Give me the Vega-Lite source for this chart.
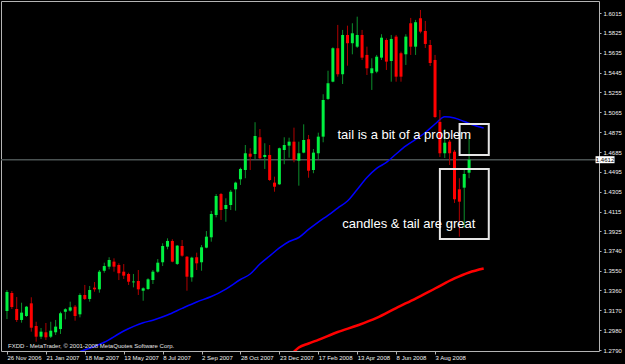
{
  "$schema": "https://vega.github.io/schema/vega-lite/v6.json",
  "width": 598,
  "height": 350,
  "autosize": {"type": "none"},
  "padding": {"left": 1, "top": 1, "right": 26, "bottom": 13},
  "background": "#000000",
  "config": {
    "view": {"stroke": "#b4b4b4", "strokeWidth": 1, "fill": null},
    "text": {"font": "Liberation Sans"},
    "axis": {"labelFont": "Liberation Sans", "labelFontSize": 6, "labelColor": "#f0f0f0", "tickColor": "#b4b4b4", "grid": false, "domain": false, "title": null, "labelOverlap": false, "labelFlush": false}
  },
  "datasets": {
    "candles": [
      {"d":"2006-11-26","o":1.3164,"h":1.3365,"l":1.3087,"c":1.3346},
      {"d":"2006-12-03","o":1.3336,"h":1.3355,"l":1.3183,"c":1.3202},
      {"d":"2006-12-10","o":1.3183,"h":1.3298,"l":1.3059,"c":1.3078},
      {"d":"2006-12-17","o":1.3078,"h":1.3243,"l":1.3052,"c":1.3148},
      {"d":"2006-12-24","o":1.3116,"h":1.3212,"l":1.3107,"c":1.3205},
      {"d":"2006-12-31","o":1.3237,"h":1.3295,"l":1.2966,"c":1.3004},
      {"d":"2007-01-07","o":1.3020,"h":1.3061,"l":1.2870,"c":1.2918},
      {"d":"2007-01-14","o":1.2918,"h":1.3001,"l":1.2896,"c":1.2966},
      {"d":"2007-01-21","o":1.2960,"h":1.3049,"l":1.2886,"c":1.2912},
      {"d":"2007-01-28","o":1.2918,"h":1.3061,"l":1.2905,"c":1.2975},
      {"d":"2007-02-04","o":1.2960,"h":1.3078,"l":1.2934,"c":1.3014},
      {"d":"2007-02-11","o":1.2991,"h":1.3157,"l":1.2944,"c":1.3142},
      {"d":"2007-02-18","o":1.3157,"h":1.3190,"l":1.3084,"c":1.3180},
      {"d":"2007-02-25","o":1.3167,"h":1.3253,"l":1.3157,"c":1.3199},
      {"d":"2007-03-04","o":1.3205,"h":1.3221,"l":1.3071,"c":1.3116},
      {"d":"2007-03-11","o":1.3132,"h":1.3333,"l":1.3103,"c":1.3317},
      {"d":"2007-03-18","o":1.3317,"h":1.3413,"l":1.3269,"c":1.3279},
      {"d":"2007-03-25","o":1.3279,"h":1.3403,"l":1.3253,"c":1.3365},
      {"d":"2007-04-01","o":1.3387,"h":1.3441,"l":1.3348,"c":1.3371},
      {"d":"2007-04-08","o":1.3371,"h":1.3556,"l":1.3339,"c":1.3540},
      {"d":"2007-04-15","o":1.3549,"h":1.3626,"l":1.3530,"c":1.3594},
      {"d":"2007-04-22","o":1.3588,"h":1.3678,"l":1.3563,"c":1.3652},
      {"d":"2007-04-29","o":1.3636,"h":1.3668,"l":1.3540,"c":1.3588},
      {"d":"2007-05-06","o":1.3604,"h":1.3620,"l":1.3460,"c":1.3525},
      {"d":"2007-05-13","o":1.3540,"h":1.3613,"l":1.3470,"c":1.3502},
      {"d":"2007-05-20","o":1.3518,"h":1.3530,"l":1.3413,"c":1.3444},
      {"d":"2007-05-27","o":1.3438,"h":1.3518,"l":1.3390,"c":1.3446},
      {"d":"2007-06-03","o":1.3451,"h":1.3556,"l":1.3317,"c":1.3371},
      {"d":"2007-06-10","o":1.3358,"h":1.3390,"l":1.3262,"c":1.3381},
      {"d":"2007-06-17","o":1.3374,"h":1.3477,"l":1.3365,"c":1.3467},
      {"d":"2007-06-24","o":1.3460,"h":1.3556,"l":1.3422,"c":1.3540},
      {"d":"2007-07-01","o":1.3540,"h":1.3661,"l":1.3530,"c":1.3626},
      {"d":"2007-07-08","o":1.3630,"h":1.3812,"l":1.3594,"c":1.3786},
      {"d":"2007-07-15","o":1.3779,"h":1.3859,"l":1.3754,"c":1.3834},
      {"d":"2007-07-22","o":1.3834,"h":1.3850,"l":1.3630,"c":1.3636},
      {"d":"2007-07-29","o":1.3614,"h":1.3795,"l":1.3604,"c":1.3789},
      {"d":"2007-08-05","o":1.3786,"h":1.3843,"l":1.3683,"c":1.3693},
      {"d":"2007-08-12","o":1.3683,"h":1.3690,"l":1.3358,"c":1.3492},
      {"d":"2007-08-19","o":1.3486,"h":1.3683,"l":1.3444,"c":1.3674},
      {"d":"2007-08-26","o":1.3678,"h":1.3722,"l":1.3556,"c":1.3620},
      {"d":"2007-09-02","o":1.3630,"h":1.3795,"l":1.3549,"c":1.3773},
      {"d":"2007-09-09","o":1.3770,"h":1.3929,"l":1.3764,"c":1.3875},
      {"d":"2007-09-16","o":1.3869,"h":1.4121,"l":1.3827,"c":1.4092},
      {"d":"2007-09-23","o":1.4082,"h":1.4283,"l":1.4060,"c":1.4264},
      {"d":"2007-09-30","o":1.4283,"h":1.4293,"l":1.4035,"c":1.4130},
      {"d":"2007-10-07","o":1.4140,"h":1.4242,"l":1.4018,"c":1.4178},
      {"d":"2007-10-14","o":1.4178,"h":1.4322,"l":1.4130,"c":1.4305},
      {"d":"2007-10-21","o":1.4328,"h":1.4401,"l":1.4124,"c":1.4392},
      {"d":"2007-10-28","o":1.4424,"h":1.4535,"l":1.4370,"c":1.4523},
      {"d":"2007-11-04","o":1.4513,"h":1.4752,"l":1.4434,"c":1.4673},
      {"d":"2007-11-11","o":1.4669,"h":1.4721,"l":1.4513,"c":1.4640},
      {"d":"2007-11-18","o":1.4666,"h":1.4970,"l":1.4618,"c":1.4838},
      {"d":"2007-11-25","o":1.4826,"h":1.4905,"l":1.4618,"c":1.4625},
      {"d":"2007-12-02","o":1.4637,"h":1.4769,"l":1.4523,"c":1.4657},
      {"d":"2007-12-09","o":1.4657,"h":1.4752,"l":1.4408,"c":1.4417},
      {"d":"2007-12-16","o":1.4392,"h":1.4449,"l":1.4305,"c":1.4353},
      {"d":"2007-12-23","o":1.4376,"h":1.4727,"l":1.4370,"c":1.4721},
      {"d":"2007-12-30","o":1.4704,"h":1.4826,"l":1.4568,"c":1.4752},
      {"d":"2008-01-06","o":1.4746,"h":1.4822,"l":1.4631,"c":1.4784},
      {"d":"2008-01-13","o":1.4784,"h":1.4918,"l":1.4587,"c":1.4609},
      {"d":"2008-01-20","o":1.4602,"h":1.4784,"l":1.4363,"c":1.4673},
      {"d":"2008-01-27","o":1.4679,"h":1.4950,"l":1.4673,"c":1.4800},
      {"d":"2008-02-03","o":1.4807,"h":1.4848,"l":1.4439,"c":1.4506},
      {"d":"2008-02-10","o":1.4513,"h":1.4714,"l":1.4482,"c":1.4679},
      {"d":"2008-02-17","o":1.4673,"h":1.4870,"l":1.4618,"c":1.4832},
      {"d":"2008-02-24","o":1.4832,"h":1.5238,"l":1.4778,"c":1.5183},
      {"d":"2008-03-02","o":1.5193,"h":1.5463,"l":1.5183,"c":1.5343},
      {"d":"2008-03-09","o":1.5358,"h":1.5687,"l":1.5352,"c":1.5678},
      {"d":"2008-03-16","o":1.5678,"h":1.5901,"l":1.5406,"c":1.5429},
      {"d":"2008-03-23","o":1.5429,"h":1.5853,"l":1.5336,"c":1.5805},
      {"d":"2008-03-30","o":1.5805,"h":1.5894,"l":1.5511,"c":1.5726},
      {"d":"2008-04-06","o":1.5726,"h":1.5917,"l":1.5620,"c":1.5821},
      {"d":"2008-04-13","o":1.5693,"h":1.5980,"l":1.5681,"c":1.5805},
      {"d":"2008-04-20","o":1.5805,"h":1.5853,"l":1.5566,"c":1.5588},
      {"d":"2008-04-27","o":1.5614,"h":1.5693,"l":1.5422,"c":1.5486},
      {"d":"2008-05-04","o":1.5439,"h":1.5582,"l":1.5279,"c":1.5486},
      {"d":"2008-05-11","o":1.5454,"h":1.5614,"l":1.5439,"c":1.5597},
      {"d":"2008-05-18","o":1.5588,"h":1.5812,"l":1.5566,"c":1.5779},
      {"d":"2008-05-25","o":1.5757,"h":1.5773,"l":1.5470,"c":1.5550},
      {"d":"2008-06-01","o":1.5556,"h":1.5805,"l":1.5358,"c":1.5767},
      {"d":"2008-06-08","o":1.5789,"h":1.5805,"l":1.5358,"c":1.5406},
      {"d":"2008-06-15","o":1.5630,"h":1.5645,"l":1.5358,"c":1.5406},
      {"d":"2008-06-22","o":1.5620,"h":1.5812,"l":1.5518,"c":1.5789},
      {"d":"2008-06-29","o":1.5917,"h":1.5968,"l":1.5614,"c":1.5693},
      {"d":"2008-07-06","o":1.5693,"h":1.5949,"l":1.5614,"c":1.5927},
      {"d":"2008-07-13","o":1.5965,"h":1.6044,"l":1.5821,"c":1.5837},
      {"d":"2008-07-20","o":1.5843,"h":1.5939,"l":1.5681,"c":1.5719},
      {"d":"2008-07-27","o":1.5709,"h":1.5757,"l":1.5508,"c":1.5537},
      {"d":"2008-08-03","o":1.5566,"h":1.5614,"l":1.5011,"c":1.5020},
      {"d":"2008-08-10","o":1.4973,"h":1.5087,"l":1.4637,"c":1.4673},
      {"d":"2008-08-17","o":1.4673,"h":1.4905,"l":1.4628,"c":1.4774},
      {"d":"2008-08-24","o":1.4784,"h":1.4800,"l":1.4561,"c":1.4673},
      {"d":"2008-08-31","o":1.4688,"h":1.4705,"l":1.4197,"c":1.4233},
      {"d":"2008-09-07","o":1.4328,"h":1.4434,"l":1.3875,"c":1.4210},
      {"d":"2008-09-14","o":1.4344,"h":1.4532,"l":1.3963,"c":1.4475},
      {"d":"2008-09-21","o":1.4487,"h":1.4848,"l":1.4434,"c":1.4612}
    ],
    "blue": [
      {"d":"2007-03-11","p":1.2776},
      {"d":"2007-04-15","p":1.2865},
      {"d":"2007-05-13","p":1.2972},
      {"d":"2007-06-10","p":1.3051},
      {"d":"2007-06-24","p":1.3076},
      {"d":"2007-07-15","p":1.3125},
      {"d":"2007-08-05","p":1.3189},
      {"d":"2007-08-26","p":1.3250},
      {"d":"2007-09-16","p":1.3302},
      {"d":"2007-10-07","p":1.3374},
      {"d":"2007-10-28","p":1.3465},
      {"d":"2007-11-11","p":1.3518},
      {"d":"2007-11-25","p":1.3613},
      {"d":"2007-12-09","p":1.3690},
      {"d":"2007-12-23","p":1.3767},
      {"d":"2008-01-06","p":1.3829},
      {"d":"2008-01-20","p":1.3867},
      {"d":"2008-02-03","p":1.3944},
      {"d":"2008-02-17","p":1.4015},
      {"d":"2008-03-02","p":1.4078},
      {"d":"2008-03-16","p":1.4149},
      {"d":"2008-03-30","p":1.4216},
      {"d":"2008-04-13","p":1.4327},
      {"d":"2008-04-27","p":1.4441},
      {"d":"2008-05-11","p":1.4529},
      {"d":"2008-05-25","p":1.4585},
      {"d":"2008-06-08","p":1.4666},
      {"d":"2008-06-22","p":1.4743},
      {"d":"2008-07-06","p":1.4805},
      {"d":"2008-07-20","p":1.4872},
      {"d":"2008-08-03","p":1.4953},
      {"d":"2008-08-17","p":1.5023},
      {"d":"2008-08-31","p":1.5011},
      {"d":"2008-09-14","p":1.4977},
      {"d":"2008-09-28","p":1.4941},
      {"d":"2008-10-12","p":1.4915}
    ],
    "red": [
      {"d":"2008-01-13","p":1.2775},
      {"d":"2008-01-20","p":1.2814},
      {"d":"2008-02-03","p":1.2853},
      {"d":"2008-02-17","p":1.2888},
      {"d":"2008-03-16","p":1.2963},
      {"d":"2008-04-13","p":1.3025},
      {"d":"2008-05-11","p":1.3097},
      {"d":"2008-06-08","p":1.3192},
      {"d":"2008-07-06","p":1.3283},
      {"d":"2008-08-03","p":1.3379},
      {"d":"2008-08-31","p":1.3475},
      {"d":"2008-09-21","p":1.3532},
      {"d":"2008-10-12","p":1.3570}
    ],
    "boxes": [
      {"from":"2008-09-07T08:00:00Z","to":"2008-10-19T08:00:00Z","low":1.4657,"high":1.4953},
      {"from":"2008-08-10T00:00:00Z","to":"2008-10-19T08:00:00Z","low":1.3853,"high":1.4523}
    ],
    "notes": [
      {"d":"2008-03-15T12:00:00Z","p":1.4810,"text":"tail is a bit of a problem"},
      {"d":"2008-03-22T14:00:00Z","p":1.3958,"text":"candles & tail are great"}
    ],
    "credit": [
      {"d":"2006-11-27T10:00:00Z","p":1.2810,"text":"FXDD - MetaTrader, © 2001-2008 MetaQuotes Software Corp."}
    ],
    "last": [{"p":1.4612}]
  },
  "layer": [
    {
      "data": {"name": "last"},
      "mark": {"type": "rule", "color": "#4a5252", "strokeWidth": 1.5},
      "encoding": {
        "y": {"field": "p", "type": "quantitative", "title": null, "scale": {"domain": [1.2781, 1.6130], "nice": false, "zero": false},
          "axis": {"orient": "right", "values": [1.2790, 1.2980, 1.3170, 1.3360, 1.3550, 1.3740, 1.3925, 1.4115, 1.4305, 1.4495, 1.4685, 1.4875, 1.5065, 1.5255, 1.5445, 1.5635, 1.5825, 1.6015], "format": ".4f", "labelPadding": 2, "tickSize": 2, "labelAlign": "left", "labelBaseline": "middle"}}
      }
    },
    {
      "data": {"name": "red"},
      "mark": {"type": "line", "color": "#ff0000", "strokeWidth": 2.5, "interpolate": "monotone", "clip": true},
      "encoding": {
        "x": {"field": "d", "type": "temporal", "title": null, "scale": {"type": "utc", "domain": [1164377030400, 1237486464000], "nice": false},
          "axis": {"orient": "bottom", "values": [1164499200000, 1169337600000, 1174176000000, 1179014400000, 1183852800000, 1188691200000, 1193529600000, 1198368000000, 1203206400000, 1208044800000, 1212883200000, 1217721600000], "labelExpr": "utcFormat(datum.value, '%-d %b %Y')", "labelAlign": "left", "labelBaseline": "top", "labelPadding": 0, "tickSize": 3}},
        "y": {"field": "p", "type": "quantitative", "title": null, "scale": {"domain": [1.2781, 1.6130], "nice": false, "zero": false},
          "axis": {"orient": "right", "values": [1.2790, 1.2980, 1.3170, 1.3360, 1.3550, 1.3740, 1.3925, 1.4115, 1.4305, 1.4495, 1.4685, 1.4875, 1.5065, 1.5255, 1.5445, 1.5635, 1.5825, 1.6015], "format": ".4f", "labelPadding": 2, "tickSize": 2, "labelAlign": "left", "labelBaseline": "middle"}}
      }
    },
    {
      "data": {"name": "blue"},
      "mark": {"type": "line", "color": "#0000ff", "strokeWidth": 1.5, "interpolate": "monotone", "clip": true},
      "encoding": {
        "x": {"field": "d", "type": "temporal", "title": null, "scale": {"type": "utc", "domain": [1164377030400, 1237486464000], "nice": false},
          "axis": {"orient": "bottom", "values": [1164499200000, 1169337600000, 1174176000000, 1179014400000, 1183852800000, 1188691200000, 1193529600000, 1198368000000, 1203206400000, 1208044800000, 1212883200000, 1217721600000], "labelExpr": "utcFormat(datum.value, '%-d %b %Y')", "labelAlign": "left", "labelBaseline": "top", "labelPadding": 0, "tickSize": 3}},
        "y": {"field": "p", "type": "quantitative", "title": null, "scale": {"domain": [1.2781, 1.6130], "nice": false, "zero": false},
          "axis": {"orient": "right", "values": [1.2790, 1.2980, 1.3170, 1.3360, 1.3550, 1.3740, 1.3925, 1.4115, 1.4305, 1.4495, 1.4685, 1.4875, 1.5065, 1.5255, 1.5445, 1.5635, 1.5825, 1.6015], "format": ".4f", "labelPadding": 2, "tickSize": 2, "labelAlign": "left", "labelBaseline": "middle"}}
      }
    },
    {
      "data": {"name": "candles"},
      "mark": {"type": "rule", "strokeWidth": 1},
      "encoding": {
        "x": {"field": "d", "type": "temporal", "title": null, "scale": {"type": "utc", "domain": [1164377030400, 1237486464000], "nice": false},
          "axis": {"orient": "bottom", "values": [1164499200000, 1169337600000, 1174176000000, 1179014400000, 1183852800000, 1188691200000, 1193529600000, 1198368000000, 1203206400000, 1208044800000, 1212883200000, 1217721600000], "labelExpr": "utcFormat(datum.value, '%-d %b %Y')", "labelAlign": "left", "labelBaseline": "top", "labelPadding": 0, "tickSize": 3}},
        "y": {"field": "l", "type": "quantitative", "title": null, "scale": {"domain": [1.2781, 1.6130], "nice": false, "zero": false},
          "axis": {"orient": "right", "values": [1.2790, 1.2980, 1.3170, 1.3360, 1.3550, 1.3740, 1.3925, 1.4115, 1.4305, 1.4495, 1.4685, 1.4875, 1.5065, 1.5255, 1.5445, 1.5635, 1.5825, 1.6015], "format": ".4f", "labelPadding": 2, "tickSize": 2, "labelAlign": "left", "labelBaseline": "middle"}},
        "y2": {"field": "h"},
        "color": {"condition": {"test": "datum.c >= datum.o", "value": "#0c8f2c"}, "value": "#b00000"}
      }
    },
    {
      "data": {"name": "candles"},
      "mark": {"type": "bar", "size": 3},
      "encoding": {
        "x": {"field": "d", "type": "temporal", "title": null, "scale": {"type": "utc", "domain": [1164377030400, 1237486464000], "nice": false},
          "axis": {"orient": "bottom", "values": [1164499200000, 1169337600000, 1174176000000, 1179014400000, 1183852800000, 1188691200000, 1193529600000, 1198368000000, 1203206400000, 1208044800000, 1212883200000, 1217721600000], "labelExpr": "utcFormat(datum.value, '%-d %b %Y')", "labelAlign": "left", "labelBaseline": "top", "labelPadding": 0, "tickSize": 3}},
        "y": {"field": "o", "type": "quantitative", "title": null, "scale": {"domain": [1.2781, 1.6130], "nice": false, "zero": false},
          "axis": {"orient": "right", "values": [1.2790, 1.2980, 1.3170, 1.3360, 1.3550, 1.3740, 1.3925, 1.4115, 1.4305, 1.4495, 1.4685, 1.4875, 1.5065, 1.5255, 1.5445, 1.5635, 1.5825, 1.6015], "format": ".4f", "labelPadding": 2, "tickSize": 2, "labelAlign": "left", "labelBaseline": "middle"}},
        "y2": {"field": "c"},
        "color": {"condition": {"test": "datum.c >= datum.o", "value": "#00f040"}, "value": "#ff0000"}
      }
    },
    {
      "data": {"name": "boxes"},
      "mark": {"type": "rect", "fillOpacity": 0, "stroke": "#e6e6e6", "strokeWidth": 2},
      "encoding": {
        "x": {"field": "from", "type": "temporal", "title": null, "scale": {"type": "utc", "domain": [1164377030400, 1237486464000], "nice": false},
          "axis": {"orient": "bottom", "values": [1164499200000, 1169337600000, 1174176000000, 1179014400000, 1183852800000, 1188691200000, 1193529600000, 1198368000000, 1203206400000, 1208044800000, 1212883200000, 1217721600000], "labelExpr": "utcFormat(datum.value, '%-d %b %Y')", "labelAlign": "left", "labelBaseline": "top", "labelPadding": 0, "tickSize": 3}},
        "x2": {"field": "to"},
        "y": {"field": "low", "type": "quantitative", "title": null, "scale": {"domain": [1.2781, 1.6130], "nice": false, "zero": false},
          "axis": {"orient": "right", "values": [1.2790, 1.2980, 1.3170, 1.3360, 1.3550, 1.3740, 1.3925, 1.4115, 1.4305, 1.4495, 1.4685, 1.4875, 1.5065, 1.5255, 1.5445, 1.5635, 1.5825, 1.6015], "format": ".4f", "labelPadding": 2, "tickSize": 2, "labelAlign": "left", "labelBaseline": "middle"}},
        "y2": {"field": "high"}
      }
    },
    {
      "data": {"name": "notes"},
      "mark": {"type": "text", "align": "left", "baseline": "alphabetic", "fontSize": 13, "color": "#ffffff"},
      "encoding": {
        "x": {"field": "d", "type": "temporal", "title": null, "scale": {"type": "utc", "domain": [1164377030400, 1237486464000], "nice": false},
          "axis": {"orient": "bottom", "values": [1164499200000, 1169337600000, 1174176000000, 1179014400000, 1183852800000, 1188691200000, 1193529600000, 1198368000000, 1203206400000, 1208044800000, 1212883200000, 1217721600000], "labelExpr": "utcFormat(datum.value, '%-d %b %Y')", "labelAlign": "left", "labelBaseline": "top", "labelPadding": 0, "tickSize": 3}},
        "y": {"field": "p", "type": "quantitative", "title": null, "scale": {"domain": [1.2781, 1.6130], "nice": false, "zero": false},
          "axis": {"orient": "right", "values": [1.2790, 1.2980, 1.3170, 1.3360, 1.3550, 1.3740, 1.3925, 1.4115, 1.4305, 1.4495, 1.4685, 1.4875, 1.5065, 1.5255, 1.5445, 1.5635, 1.5825, 1.6015], "format": ".4f", "labelPadding": 2, "tickSize": 2, "labelAlign": "left", "labelBaseline": "middle"}},
        "text": {"field": "text"}
      }
    },
    {
      "data": {"name": "credit"},
      "mark": {"type": "text", "align": "left", "baseline": "alphabetic", "fontSize": 6, "color": "#e6e6e6"},
      "encoding": {
        "x": {"field": "d", "type": "temporal", "title": null, "scale": {"type": "utc", "domain": [1164377030400, 1237486464000], "nice": false},
          "axis": {"orient": "bottom", "values": [1164499200000, 1169337600000, 1174176000000, 1179014400000, 1183852800000, 1188691200000, 1193529600000, 1198368000000, 1203206400000, 1208044800000, 1212883200000, 1217721600000], "labelExpr": "utcFormat(datum.value, '%-d %b %Y')", "labelAlign": "left", "labelBaseline": "top", "labelPadding": 0, "tickSize": 3}},
        "y": {"field": "p", "type": "quantitative", "title": null, "scale": {"domain": [1.2781, 1.6130], "nice": false, "zero": false},
          "axis": {"orient": "right", "values": [1.2790, 1.2980, 1.3170, 1.3360, 1.3550, 1.3740, 1.3925, 1.4115, 1.4305, 1.4495, 1.4685, 1.4875, 1.5065, 1.5255, 1.5445, 1.5635, 1.5825, 1.6015], "format": ".4f", "labelPadding": 2, "tickSize": 2, "labelAlign": "left", "labelBaseline": "middle"}},
        "text": {"field": "text"}
      }
    },
    {
      "data": {"name": "last"},
      "mark": {"type": "rect", "fill": "#ffffff"},
      "encoding": {
        "x": {"datum": 1237680000000, "type": "temporal", "title": null, "scale": {"type": "utc", "domain": [1164377030400, 1237486464000], "nice": false},
          "axis": {"orient": "bottom", "values": [1164499200000, 1169337600000, 1174176000000, 1179014400000, 1183852800000, 1188691200000, 1193529600000, 1198368000000, 1203206400000, 1208044800000, 1212883200000, 1217721600000], "labelExpr": "utcFormat(datum.value, '%-d %b %Y')", "labelAlign": "left", "labelBaseline": "top", "labelPadding": 0, "tickSize": 3}},
        "x2": {"datum": 1240038720000},
        "y": {"datum": 1.4645, "type": "quantitative", "title": null, "scale": {"domain": [1.2781, 1.6130], "nice": false, "zero": false},
          "axis": {"orient": "right", "values": [1.2790, 1.2980, 1.3170, 1.3360, 1.3550, 1.3740, 1.3925, 1.4115, 1.4305, 1.4495, 1.4685, 1.4875, 1.5065, 1.5255, 1.5445, 1.5635, 1.5825, 1.6015], "format": ".4f", "labelPadding": 2, "tickSize": 2, "labelAlign": "left", "labelBaseline": "middle"}},
        "y2": {"datum": 1.4578}
      }
    },
    {
      "data": {"name": "last"},
      "mark": {"type": "text", "align": "center", "baseline": "middle", "fontSize": 6, "color": "#000000"},
      "encoding": {
        "x": {"datum": 1238859360000, "type": "temporal", "title": null, "scale": {"type": "utc", "domain": [1164377030400, 1237486464000], "nice": false},
          "axis": {"orient": "bottom", "values": [1164499200000, 1169337600000, 1174176000000, 1179014400000, 1183852800000, 1188691200000, 1193529600000, 1198368000000, 1203206400000, 1208044800000, 1212883200000, 1217721600000], "labelExpr": "utcFormat(datum.value, '%-d %b %Y')", "labelAlign": "left", "labelBaseline": "top", "labelPadding": 0, "tickSize": 3}},
        "y": {"field": "p", "type": "quantitative", "title": null, "scale": {"domain": [1.2781, 1.6130], "nice": false, "zero": false},
          "axis": {"orient": "right", "values": [1.2790, 1.2980, 1.3170, 1.3360, 1.3550, 1.3740, 1.3925, 1.4115, 1.4305, 1.4495, 1.4685, 1.4875, 1.5065, 1.5255, 1.5445, 1.5635, 1.5825, 1.6015], "format": ".4f", "labelPadding": 2, "tickSize": 2, "labelAlign": "left", "labelBaseline": "middle"}},
        "text": {"field": "p", "format": ".4f"}
      }
    }
  ]
}
